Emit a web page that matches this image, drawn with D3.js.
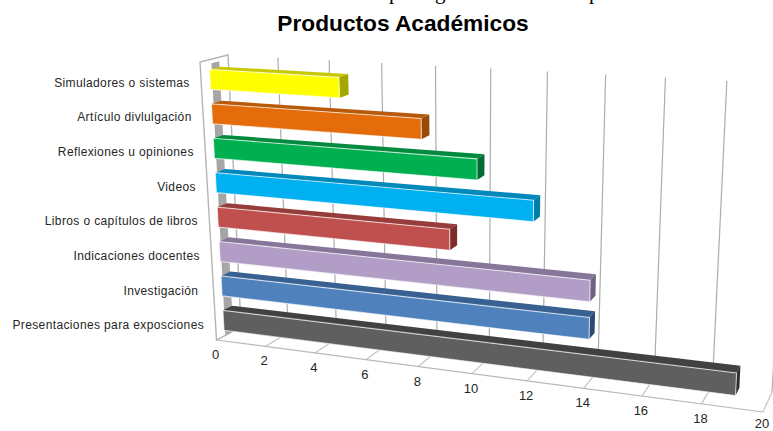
<!DOCTYPE html>
<html>
<head>
<meta charset="utf-8">
<script src="https://cdnjs.cloudflare.com/ajax/libs/d3/7.8.5/d3.min.js"></script>
<style>
  html, body { margin: 0; padding: 0; background: #fff; }
  svg { display: block; }
  text { font-family: "Liberation Sans", Arial, sans-serif; white-space: pre; }
</style>
</head>
<body>
<svg id="chart" width="773" height="431"></svg>
<script>
// Chart content
const chartTitle = "Productos Académicos";
const categories = [
  "Presentaciones para exposciones",
  "Investigación ",
  "Indicaciones docentes",
  "Libros o capítulos de libros",
  "Videos",
  "Reflexiones u opiniones",
  "Artículo divlulgación",
  "Simuladores o sistemas"
];
const values = [19, 14, 14, 9, 12, 10, 8, 5];
const axisTicks = [0, 2, 4, 6, 8, 10, 12, 14, 16, 18, 20];
const frontColors = ["#5f5f5f", "#4f81bd", "#b29dc6", "#c0504d", "#00b0f0", "#00b050", "#e46c0a", "#ffff00"];
const topColors   = ["#414141", "#386090", "#86769a", "#963c3a", "#0088bb", "#008a3e", "#b85a0a", "#c8c800"];
const sideColors  = ["#2e2e2e", "#2b4a70", "#6f6280", "#7a2f2d", "#007ea8", "#006b34", "#964b08", "#a6a600"];

// Letters of the line of body text above the chart that hang into the page
const headerLetters = ["p", "g", "p"];
const headerLetterX = [389, 435, 589];

// Box corners of the 3D plot on screen: [left, right] for each edge
const edges = {
  frontBottom: { x: [216.5, 763], y: [340, 412] },
  frontTop:    { x: [200, 778],   y: [62, 98] },
  backBottom:  { x: [241, 772],   y: [327, 392] },
  backTop:     { x: [228, 790],   y: [55, 84] }
};
const foreshortening = 1.139;

const svg = d3.select("#chart");

// value -> position along the width of the box, with perspective applied
const unit = d3.scaleLinear().domain([0, 20]).range([0, 1]);
const along = v => { const u = unit(v); return u / (u + foreshortening * (1 - u)); };

const edgeScale = e => ({
  x: d3.scaleLinear().domain([0, 1]).range(e.x),
  y: d3.scaleLinear().domain([0, 1]).range(e.y)
});
const fb = edgeScale(edges.frontBottom), ft = edgeScale(edges.frontTop),
      bb = edgeScale(edges.backBottom),  bt = edgeScale(edges.backTop);

// v: axis value, h: height in the box 0..1, d: depth in the box 0..1
function project(v, h, d) {
  const t = along(v);
  const mix = a => {
    const front = a(fb, t) + (a(ft, t) - a(fb, t)) * h;
    const back  = a(bb, t) + (a(bt, t) - a(bb, t)) * h;
    return front + (back - front) * d;
  };
  return [mix((s, k) => s.x(k)), mix((s, k) => s.y(k))];
}

const band = d3.scaleBand().domain(categories).range([0.02, 0.965]).paddingInner(0.42);
const barDepth = [0.32, 0.7];
const poly = pts => "M" + pts.map(p => p.join(",")).join("L") + "Z";
const gridColor = "#adadad";

// Side wall and floor lines
const wall = svg.append("g");
wall.append("path")
  .attr("d", poly([project(0, 0, 0), project(0, 1, 0), project(0, 1, 1), project(0, 0, 1)]))
  .attr("fill", "#fff").attr("stroke", "#b4b4b4").attr("stroke-width", 1.4);
wall.append("path")
  .attr("d", poly([project(0, 0, 0.36), project(0, 0.985, 0.4), project(0, 0.985, 0.68), project(0, 0, 0.68)]))
  .attr("fill", "#a6a6a6");

// Gridlines on the back wall and tick lines on the floor
const grid = svg.append("g").attr("fill", "none").attr("stroke", gridColor).attr("stroke-width", 1.2);
axisTicks.slice(1).forEach(v => {
  grid.append("path").attr("d", d3.line()([project(v, 0, 1), project(v, 1, 1)]));
});
axisTicks.slice(1).forEach(v => {
  grid.append("path").attr("d", d3.line()([project(v, 0, 0), project(v, 0, 1)])).attr("stroke", "#c4c4c4");
});
grid.append("path").attr("d", d3.line()([project(0, 0, 0), project(20, 0, 0)])).attr("stroke", "#b8b8b8");

// Bars: top face, end face, front face
const bars = svg.append("g");
categories.forEach((c, i) => {
  const v = values[i], lo = band(c), hi = lo + band.bandwidth();
  const [d0, d1] = barDepth;
  const g = bars.append("g");
  g.append("path")
    .attr("d", poly([project(0, hi, d0), project(0, hi, d1), project(v, hi, d1), project(v, hi, d0)]))
    .attr("fill", topColors[i]);
  g.append("path")
    .attr("d", poly([project(v, lo, d0), project(v, hi, d0), project(v, hi, d1), project(v, lo, d1)]))
    .attr("fill", sideColors[i]);
  g.append("path")
    .attr("d", poly([project(0, lo, d0), project(0, hi, d0), project(v, hi, d0), project(v, lo, d0)]))
    .attr("fill", frontColors[i])
    .attr("stroke", "#fff").attr("stroke-opacity", 0.65).attr("stroke-width", 1.1);
});

// Category labels beside the wall
const labelAnchor = c => project(0, band(c) + band.bandwidth() / 2, 0);
svg.append("g").selectAll("text").data(categories).join("text")
  .attr("x", c => labelAnchor(c)[0] - 11.5)
  .attr("y", c => labelAnchor(c)[1] + 5)
  .attr("text-anchor", "end")
  .attr("font-size", 12)
  .attr("letter-spacing", 0.37)
  .attr("fill", "#262626")
  .text(c => c);

// Value labels under the front edge, kept inside the page at the far end
svg.append("g").selectAll("text").data(axisTicks).join("text")
  .attr("x", v => project(v, 0, 0)[0] - 1)
  .attr("y", v => Math.min(project(v, 0, 0)[1] + 19, 428))
  .attr("text-anchor", "middle")
  .attr("font-size", 13)
  .attr("fill", "#262626")
  .text(v => v);

// Title
svg.append("text")
  .attr("x", 403).attr("y", 31)
  .attr("text-anchor", "middle")
  .attr("font-size", 22.7)
  .attr("font-weight", "bold")
  .attr("fill", "#000")
  .text(chartTitle);

// Descenders of the body text line
svg.append("g").selectAll("text").data(headerLetters).join("text")
  .attr("x", (l, i) => headerLetterX[i])
  .attr("y", -1)
  .attr("font-size", 21)
  .attr("fill", "#000")
  .style("font-family", "'Liberation Serif', serif")
  .text(l => l);
</script>
</body>
</html>
